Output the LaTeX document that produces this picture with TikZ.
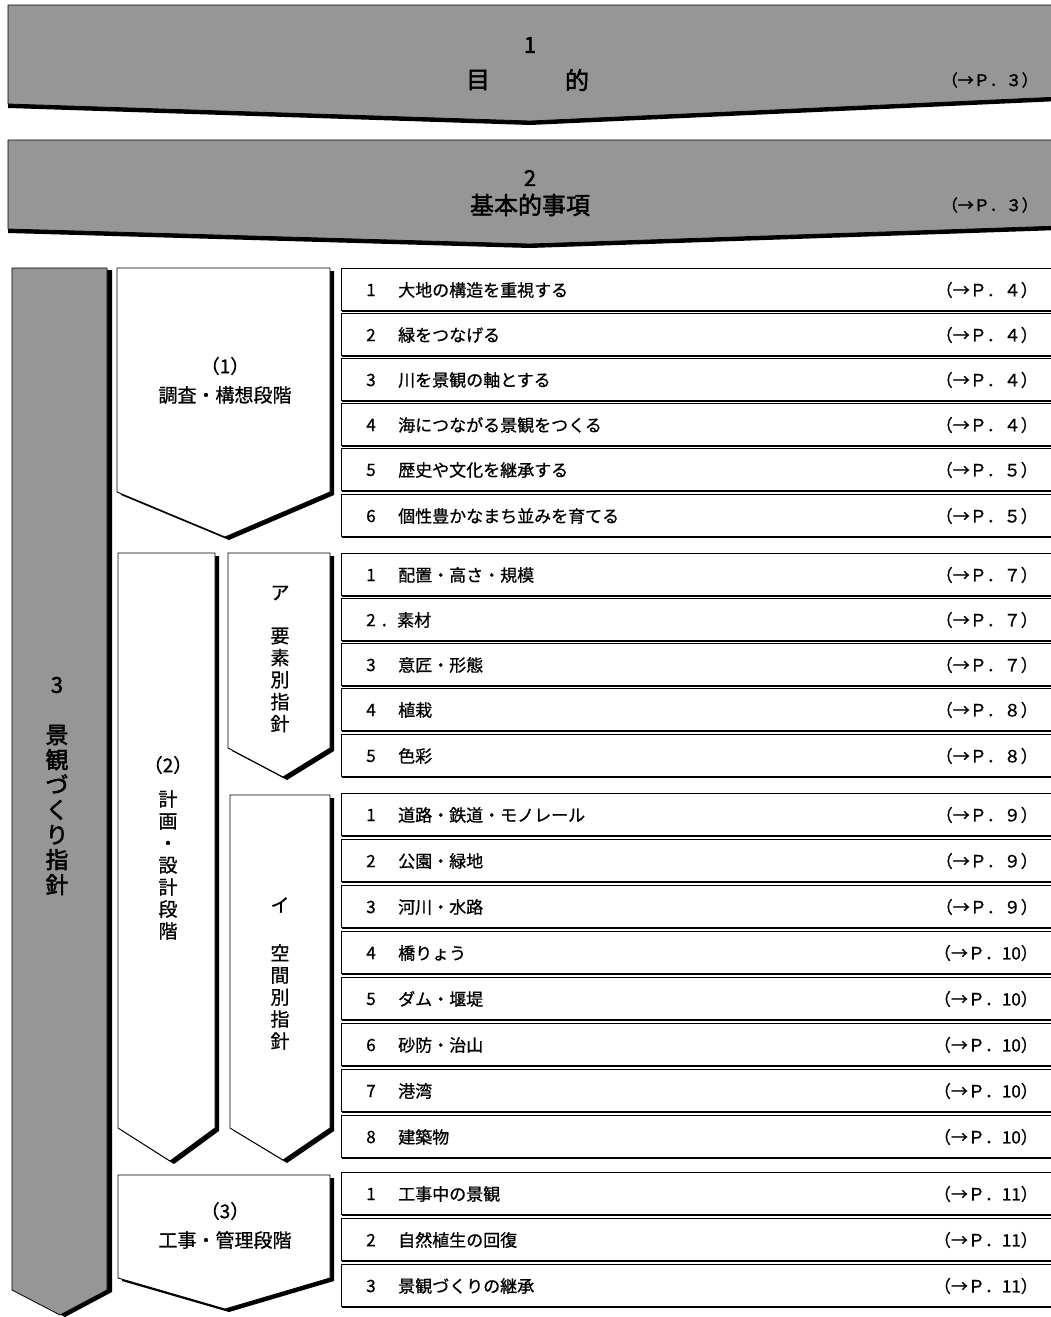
\documentclass[tikz,border=0pt]{standalone}
\usepackage{fontspec}
\usetikzlibrary{shadows}
\newfontfamily\jp{Noto Sans CJK JP}[FakeBold=0.8]
\newfontfamily\jpb{Noto Sans CJK JP}[FakeBold=2]
\definecolor{bannergray}{RGB}{150,150,150}
\tikzset{
  chev/.style={fill=white, draw=black, line width=0.9pt,
    drop shadow={shadow xshift=4pt, shadow yshift=-3pt, opacity=1, fill=black}},
  banner/.style={fill=bannergray, draw=black, line width=0.8pt,
    drop shadow={shadow xshift=0pt, shadow yshift=-4pt, opacity=1, fill=black}},
  colshape/.style={fill=bannergray, draw=black, line width=0.8pt,
    drop shadow={shadow xshift=5pt, shadow yshift=-2pt, opacity=1, fill=black}},
  rowtxt/.style={font=\jp\fontsize{17}{20}\selectfont, inner sep=0pt},
  lbl/.style={font=\jp\fontsize{19}{22}\selectfont, inner sep=0pt, align=center},
  vlbl/.style={font=\jp\fontsize{19}{22}\selectfont, inner sep=0pt, align=center},
  btxt/.style={font=\jpb\fontsize{24}{26}\selectfont, inner sep=0pt},
  bnum/.style={font=\jpb\fontsize{22}{24}\selectfont, inner sep=0pt},
  bref/.style={font=\jpb\fontsize{16}{20}\selectfont, inner sep=0pt, anchor=east},
  rowbox/.style={line width=0.8pt},
  rowshadow/.style={line width=2.4pt},
}
\newcommand{\rowitem}[5]{%
  \draw[rowbox] (1056,#2) -- (341,#2) -- (341,{#2+42}) -- (1056,{#2+42});
  \draw[rowshadow] (342,{#2+43}) -- (1056,{#2+43});
  \node[rowtxt] (#1n) at (371,{#2+22}) {#3};
  \node[rowtxt, anchor=west] (#1t) at (398,{#2+22}) {#4};
  \node[rowtxt, anchor=east] (#1p) at (1038,{#2+22}) {#5};
}
\begin{document}
\begin{tikzpicture}[x=1pt,y=-1pt]
\useasboundingbox (0,0) rectangle (1050,1317);
\fill[white] (0,0) rectangle (1050,1317);

% banners
\path[banner] (8,5) -- (1060,5) -- (1060,97) -- (530,121) -- (8,104) -- cycle;
\node[bnum] (b1num) at (530,45) {1};
\node[btxt] (b1a) at (478,80) {目};
\node[btxt] (b1b) at (577,80) {的};
\node[bref] (b1p) at (1038,80) {（→Ｐ．３）};

\path[banner] (8,140) -- (1060,140) -- (1060,226) -- (530,244) -- (8,229) -- cycle;
\node[bnum] (b2num) at (530,178) {2};
\node[btxt] (b2t) at (530,205) {基本的事項};
\node[bref] (b2p) at (1038,205) {（→Ｐ．３）};

% left column
\path[colshape] (12,268) -- (107,268) -- (107,1290) -- (60,1315) -- (12,1290) -- cycle;
\node[bnum] (c3num) at (57,685) {3};
\node[btxt, align=center, font=\jpb\fontsize{23}{25}\selectfont] (c3t) at (57,810) {景\\観\\づ\\く\\り\\指\\針};

% chevrons
\path[chev] (117,268) -- (330,268) -- (330,492) -- (225,537) -- (117,492) -- cycle;
\node[lbl] (s1a) at (225,366) {（1）};
\node[lbl] (s1b) at (225,395) {調査・構想段階};

\path[chev] (118,553) -- (215,553) -- (215,1128) -- (170,1161) -- (118,1128) -- cycle;
\node[lbl] (s2a) at (168,765) {（2）};
\node[vlbl] (s2b) at (168,865) {計\\画\\・\\設\\計\\段\\階};

\path[chev] (228,553) -- (330,553) -- (330,748) -- (283,777) -- (228,748) -- cycle;
\node[lbl] (sa1) at (280,593) {ア};
\node[vlbl] (sa2) at (280,680) {要\\素\\別\\指\\針};

\path[chev] (230,795) -- (330,795) -- (330,1128) -- (283,1160) -- (230,1128) -- cycle;
\node[lbl] (si1) at (280,905) {イ};
\node[vlbl] (si2) at (280,997) {空\\間\\別\\指\\針};

\path[chev] (118,1175) -- (330,1175) -- (330,1278) -- (225,1309) -- (118,1278) -- cycle;
\node[lbl] (s3a) at (225,1211) {（3）};
\node[lbl] (s3b) at (225,1240) {工事・管理段階};

% rows group 1
\rowitem{g1a}{268}{1}{大地の構造を重視する}{（→Ｐ．４）}
\rowitem{g1b}{313}{2}{緑をつなげる}{（→Ｐ．４）}
\rowitem{g1c}{358}{3}{川を景観の軸とする}{（→Ｐ．４）}
\rowitem{g1d}{403}{4}{海につながる景観をつくる}{（→Ｐ．４）}
\rowitem{g1e}{448}{5}{歴史や文化を継承する}{（→Ｐ．５）}
\rowitem{g1f}{494}{6}{個性豊かなまち並みを育てる}{（→Ｐ．５）}

% rows group ア
\rowitem{gaa}{553}{1}{配置・高さ・規模}{（→Ｐ．７）}
\draw[rowbox] (1056,598) -- (341,598) -- (341,640) -- (1056,640);
\draw[rowshadow] (342,641) -- (1056,641);
\node[rowtxt] (gabn) at (371,620) {2};
\node[rowtxt, anchor=west] (gabt) at (380,620) {．素材};
\node[rowtxt, anchor=east] (gabp) at (1038,620) {（→Ｐ．７）};
\rowitem{gac}{643}{3}{意匠・形態}{（→Ｐ．７）}
\rowitem{gad}{688}{4}{植栽}{（→Ｐ．８）}
\rowitem{gae}{734}{5}{色彩}{（→Ｐ．８）}

% rows group イ
\rowitem{gia}{793}{1}{道路・鉄道・モノレール}{（→Ｐ．９）}
\rowitem{gib}{839}{2}{公園・緑地}{（→Ｐ．９）}
\rowitem{gic}{885}{3}{河川・水路}{（→Ｐ．９）}
\rowitem{gid}{931}{4}{橋りょう}{（→Ｐ．10）}
\rowitem{gie}{977}{5}{ダム・堰堤}{（→Ｐ．10）}
\rowitem{gif}{1023}{6}{砂防・治山}{（→Ｐ．10）}
\rowitem{gig}{1069}{7}{港湾}{（→Ｐ．10）}
\rowitem{gih}{1115}{8}{建築物}{（→Ｐ．10）}

% rows group 3
\rowitem{g3a}{1172}{1}{工事中の景観}{（→Ｐ．11）}
\rowitem{g3b}{1218}{2}{自然植生の回復}{（→Ｐ．11）}
\rowitem{g3c}{1264}{3}{景観づくりの継承}{（→Ｐ．11）}
\end{tikzpicture}
\end{document}
